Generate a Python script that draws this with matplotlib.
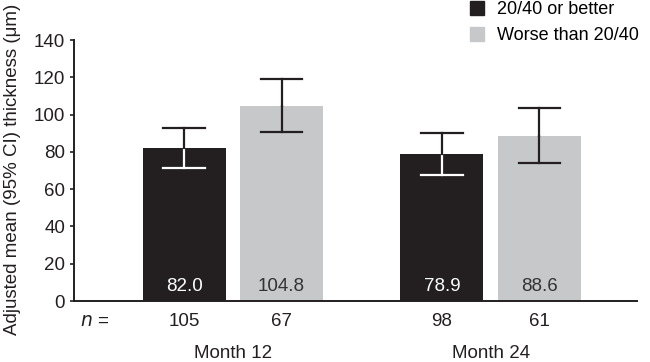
import matplotlib.pyplot as plt
from matplotlib.patches import Patch

plt.rcParams['font.family'] = ['Liberation Sans', 'DejaVu Sans']

# DATA
groups = ["Month 12", "Month 24"]
series = ["20/40 or better", "Worse than 20/40"]
means = [[82.0, 78.9], [104.8, 88.6]]
ci_low = [[71.2, 67.8], [90.7, 74.2]]
ci_high = [[93.0, 90.3], [119.1, 103.5]]
n_counts = [[105, 98], [67, 61]]
yticks = [0, 20, 40, 60, 80, 100, 120, 140]

dark = "#231f20"
light = "#c7c8ca"
colors = [dark, light]
fs = 13.5

fig = plt.figure(figsize=(6.5, 3.62), dpi=100)
ax = fig.add_axes([0.114, 0.1685, 0.866, 0.721])

width = 0.322
offset = 0.189
for s in range(2):
    for g in range(2):
        x = g + (offset if s else -offset)
        m = means[s][g]
        ax.bar(x, m, width=width, color=colors[s], zorder=1)
        lo, hi = ci_low[s][g], ci_high[s][g]
        cap = width / 4
        # lower half white inside the dark bar
        low_col = "white" if s == 0 else dark
        ax.plot([x, x], [lo, m], color=low_col, lw=1.6, zorder=3)
        ax.plot([x - cap, x + cap], [lo, lo], color=low_col, lw=1.6, zorder=3)
        ax.plot([x, x], [m, hi], color=dark, lw=1.6, zorder=3)
        ax.plot([x - cap, x + cap], [hi, hi], color=dark, lw=1.6, zorder=3)
        ax.text(x, 8, f"{m:.1f}", ha="center", va="center", fontsize=fs,
                color="white" if s == 0 else "#333333")
        ax.text(x, -11, str(n_counts[s][g]), ha="center", va="center",
                fontsize=fs, color=dark, clip_on=False)

for g, name in enumerate(groups):
    ax.text(g, -28, name, ha="center", va="center", fontsize=fs,
            color=dark, clip_on=False)
ax.text(-0.593, -11, "$n$ =", ha="left", va="center", fontsize=fs,
        color=dark, clip_on=False)

ax.set_xlim(-0.616, 1.568)
ax.set_ylim(0, 140)
ax.set_yticks(yticks)
ax.set_xticks([])
ax.tick_params(axis="y", labelsize=fs, length=3, width=1.2, colors=dark)
for side in ["top", "right"]:
    ax.spines[side].set_visible(False)
for side in ["left", "bottom"]:
    ax.spines[side].set_linewidth(1.4)
    ax.spines[side].set_color(dark)

fig.text(0.019, 0.533, "Adjusted mean (95% CI) thickness (\u03bcm)", rotation=90,
         ha="center", va="center", fontsize=fs, color=dark)

handles = [Patch(color=c, label=l) for c, l in zip(colors, series)]
fig.legend(handles=handles, loc="upper left", bbox_to_anchor=(0.698, 1.042),
           frameon=False, fontsize=13, handlelength=0.8, handleheight=0.8,
           handletextpad=0.7, labelspacing=0.5)

fig.savefig("out.png", dpi=100)
